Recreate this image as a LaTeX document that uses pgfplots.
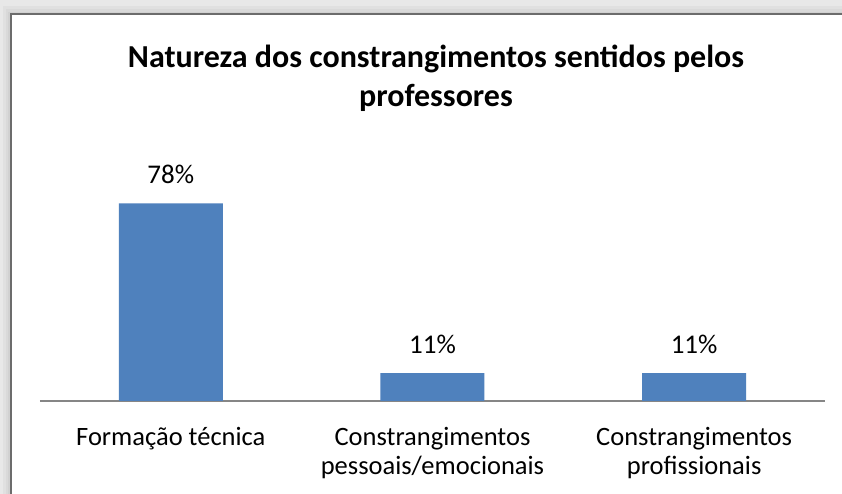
\documentclass[border=0pt]{standalone}
\usepackage{pgfplots}
\pgfplotsset{compat=1.18}
\usepackage{fontspec}
\setmainfont{Carlito}
\definecolor{barblue}{HTML}{4F81BD}
\definecolor{axgray}{HTML}{868686}
\begin{document}
\begin{tikzpicture}
\path[use as bounding box] (0pt,0pt) rectangle (842pt,494pt);
\fill[gray!18] (0pt,0pt) rectangle (842pt,494pt);
\fill[gray!24] (3pt,-10pt) rectangle (900pt,488pt);
\fill[gray!30] (6pt,-10pt) rectangle (900pt,485pt);
\fill[gray!36] (8pt,-10pt) rectangle (900pt,482pt);
\filldraw[fill=white,draw=gray!85!black,line width=2pt] (11pt,-20pt) rectangle (900pt,480pt);
\node[font=\bfseries\fontsize{32}{39}\selectfont,align=center] at (436pt,416pt) {Natureza dos constrangimentos sentidos pelos\\professores};
\begin{axis}[at={(170.8pt,93pt)},anchor=origin,scale only axis,
  width=785pt,height=228pt,
  xmin=-0.5,xmax=2.5,ymin=0,ymax=90,
  axis y line=none, axis x line*=bottom,
  x axis line style={draw=axgray,line width=1.5pt,-},
  xtick={0,1,2}, major tick length=0pt,
  xticklabels={Formação técnica,Constrangimentos\\pessoais/emocionais,Constrangimentos\\profissionais},
  xticklabel style={font=\fontsize{26.5}{29}\selectfont,align=center,anchor=north,yshift=-26pt,inner sep=0pt},
  ybar, bar width=104pt,
  /pgf/number format/assume math mode=true,
  nodes near coords={\pgfmathprintnumber{\pgfplotspointmeta}\%},
  nodes near coords style={font=\fontsize{27}{30}\selectfont,anchor=base,inner sep=0pt,yshift=20pt},
  clip=false]
\addplot[fill=barblue,draw=none] coordinates {(0,78) (1,11) (2,11)};
\end{axis}
\end{tikzpicture}
\end{document}
